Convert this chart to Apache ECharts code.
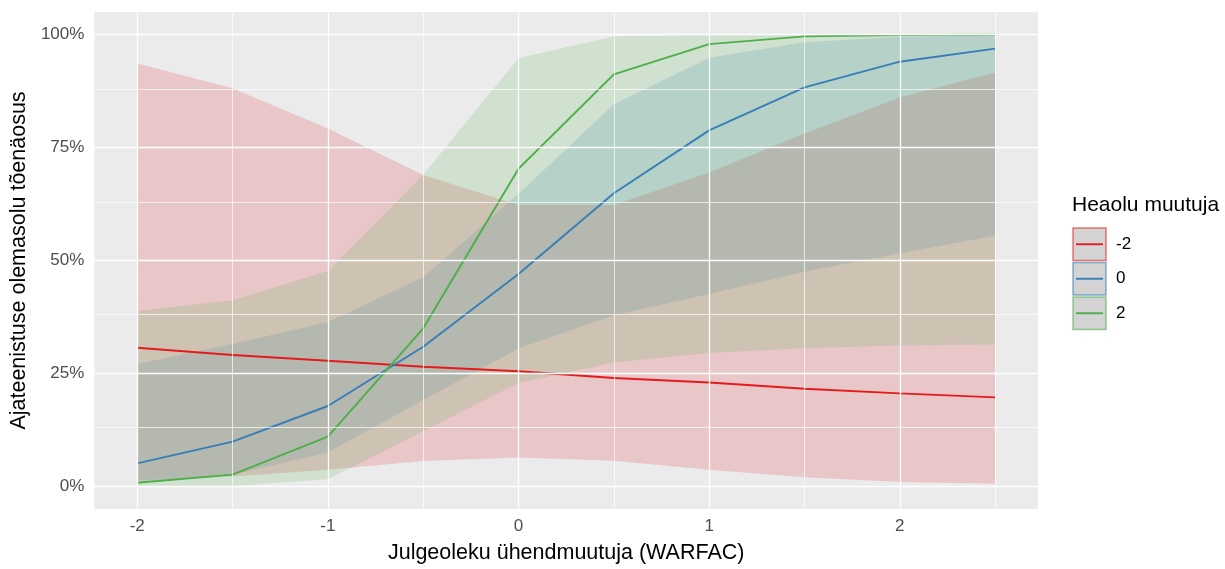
<!DOCTYPE html>
<html>
<head>
<meta charset="utf-8">
<script src="https://cdn.jsdelivr.net/npm/echarts@6/dist/echarts.min.js"></script>
<style>
html,body{margin:0;padding:0;background:#fff;}
#chart{width:1225px;height:569px;}
</style>
</head>
<body>
<div id="chart"></div>
<script>
// ---- data ----
const xVals = [-2, -1.5, -1, -0.5, 0, 0.5, 1, 1.5, 2, 2.5];
const groupNames = ['-2', '0', '2'];
const redLine  = [0.307, 0.291, 0.278, 0.265, 0.255, 0.240, 0.230, 0.216, 0.206, 0.197];
const redUpper = [0.936, 0.881, 0.792, 0.689, 0.623, 0.623, 0.695, 0.781, 0.861, 0.916];
const redLower = [0.013, 0.022, 0.037, 0.056, 0.064, 0.057, 0.037, 0.020, 0.010, 0.006];
const blueLine  = [0.051, 0.099, 0.178, 0.309, 0.470, 0.649, 0.788, 0.883, 0.940, 0.969];
const blueUpper = [0.271, 0.315, 0.364, 0.463, 0.648, 0.846, 0.949, 0.983, 0.995, 0.998];
const blueLower = [0.008, 0.026, 0.075, 0.191, 0.305, 0.379, 0.426, 0.475, 0.516, 0.555];
const greenLine  = [0.008, 0.026, 0.110, 0.350, 0.703, 0.912, 0.979, 0.996, 0.999, 0.9997];
const greenUpper = [0.388, 0.412, 0.477, 0.690, 0.948, 0.996, 0.9995, 1.0, 1.0, 1.0];
const greenLower = [0.0002, 0.001, 0.016, 0.122, 0.229, 0.274, 0.295, 0.306, 0.312, 0.314];
const xTicks = [-2, -1, 0, 1, 2];
const xMinor = [-1.5, -0.5, 0.5, 1.5, 2.5];
const yTicks = [0, 0.25, 0.5, 0.75, 1];
const yMinor = [0.125, 0.375, 0.625, 0.875];

const colors = ['#E41A1C', '#377EB8', '#4DAF4A'];
const fills = ['rgba(228,26,28,0.17)', 'rgba(55,126,184,0.17)', 'rgba(77,175,74,0.17)'];
const lines = [redLine, blueLine, greenLine];
const uppers = [redUpper, blueUpper, greenUpper];
const lowers = [redLower, blueLower, greenLower];

const chart = echarts.init(document.getElementById('chart'), null, {renderer: 'canvas'});

function ribbon(k) {
  const up = uppers[k], lo = lowers[k];
  return {
    type: 'custom',
    name: groupNames[k] + ' band',
    z: 2,
    silent: true,
    data: xVals.map((x, i) => [x, lo[i], up[i]]),
    encode: {x: 0, y: [1, 2]},
    renderItem: function (params, api) {
      if (params.dataIndex !== 0) return null;
      const pts = [];
      for (let i = 0; i < xVals.length; i++) pts.push(api.coord([xVals[i], up[i]]));
      for (let i = xVals.length - 1; i >= 0; i--) pts.push(api.coord([xVals[i], lo[i]]));
      return {type: 'polygon', shape: {points: pts}, style: {fill: fills[k]}};
    }
  };
}

function lineSeries(k) {
  return {
    type: 'line',
    name: groupNames[k],
    z: 3,
    silent: true,
    symbol: 'none',
    data: xVals.map((x, i) => [x, lines[k][i]]),
    lineStyle: {color: colors[k], width: 1.9},
    animation: false
  };
}

const gridLines = [];
xTicks.forEach(v => gridLines.push({xAxis: v, lineStyle: {color: '#fff', width: 1.3, type: 'solid'}}));
xMinor.forEach(v => gridLines.push({xAxis: v, lineStyle: {color: '#fff', width: 0.7, type: 'solid'}}));
yTicks.forEach(v => gridLines.push({yAxis: v, lineStyle: {color: '#fff', width: 1.3, type: 'solid'}}));
yMinor.forEach(v => gridLines.push({yAxis: v, lineStyle: {color: '#fff', width: 0.7, type: 'solid'}}));

const LX = 1073, LY = 228, KH = 34.5, KW = 33;
const legendEls = [{
  type: 'text', left: 1072, top: 195,
  style: {text: 'Heaolu muutuja', fontSize: 21, fontFamily: 'Liberation Sans, Arial, sans-serif', fill: '#000'}
}];
groupNames.forEach((g, k) => {
  const y = LY + k * KH;
  legendEls.push({type: 'rect', shape: {x: LX, y: y, width: KW, height: KH - 2},
    style: {fill: '#D3D3D3', stroke: colors[k], lineWidth: 1.5, opacity: 1, strokeOpacity: 0.6}});
  legendEls.push({type: 'line', shape: {x1: LX + 3, y1: y + (KH - 2) / 2, x2: LX + KW - 3, y2: y + (KH - 2) / 2},
    style: {stroke: colors[k], lineWidth: 1.9}});
  legendEls.push({type: 'text', x: 1116, y: y + (KH - 2) / 2,
    style: {text: g, fontSize: 17, fontFamily: 'Liberation Sans, Arial, sans-serif', fill: '#000', verticalAlign: 'middle', align: 'left'}});
});

const option = {
  animation: false,
  backgroundColor: '#fff',
  grid: {left: 93, right: 187, top: 12, bottom: 55, show: true, backgroundColor: '#EBEBEB', borderWidth: 0},
  xAxis: {
    type: 'value', min: -2.225, max: 2.725,
    axisLine: {show: false},
    splitLine: {show: false},
    axisTick: {show: true, length: 4, lineStyle: {color: '#333', width: 1}, customValues: xTicks},
    axisLabel: {customValues: xTicks, color: '#4D4D4D', fontSize: 17, margin: 9, fontFamily: 'Liberation Sans, Arial, sans-serif',
      formatter: v => String(v)},
    name: 'Julgeoleku ühendmuutuja (WARFAC)', nameLocation: 'middle', nameGap: 33,
    nameTextStyle: {color: '#000', fontSize: 21.5, fontFamily: 'Liberation Sans, Arial, sans-serif'}
  },
  yAxis: {
    type: 'value', min: -0.05, max: 1.05,
    axisLine: {show: false},
    splitLine: {show: false},
    axisTick: {show: true, length: 4, lineStyle: {color: '#333', width: 1}, customValues: yTicks},
    axisLabel: {customValues: yTicks, color: '#4D4D4D', fontSize: 17, margin: 10, fontFamily: 'Liberation Sans, Arial, sans-serif',
      formatter: v => Math.round(v * 100) + '%'},
    name: 'Ajateenistuse olemasolu tõenäosus', nameLocation: 'middle', nameGap: 62, nameRotate: 90,
    nameTextStyle: {color: '#000', fontSize: 21.5, fontFamily: 'Liberation Sans, Arial, sans-serif'}
  },
  graphic: legendEls,
  series: [
    {
      type: 'line', name: 'grid', z: 1, silent: true, symbol: 'none',
      data: [], lineStyle: {opacity: 0},
      markLine: {silent: true, symbol: ['none', 'none'], label: {show: false}, animation: false, data: gridLines}
    },
    ribbon(0), ribbon(1), ribbon(2),
    lineSeries(0), lineSeries(1), lineSeries(2)
  ]
};
chart.setOption(option);
</script>
</body>
</html>
